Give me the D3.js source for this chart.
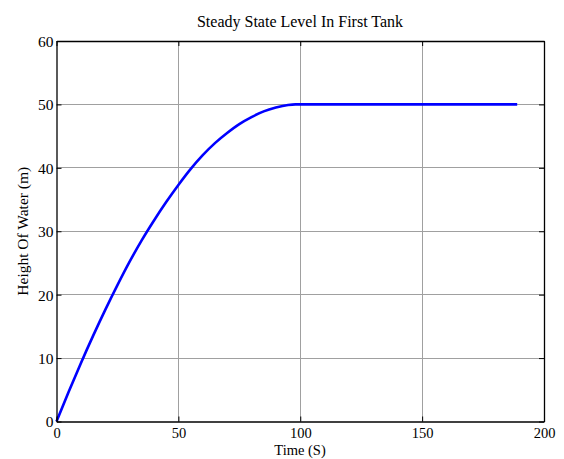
<!DOCTYPE html>
<html>
<head>
<meta charset="utf-8">
<script src="https://cdn.jsdelivr.net/npm/d3@7"></script>
<style>
html,body{margin:0;padding:0;background:#fff;}
svg{display:block;}
text{font-family:"Liberation Serif","Times New Roman",serif;fill:#000;}
</style>
</head>
<body>
<svg id="chart" width="564" height="459"></svg>
<script>
// Data
const timeValues   = [0, 5, 10, 15, 20, 25, 30, 35, 40, 45, 50, 55, 60, 65, 70, 75, 80, 85, 90, 95, 98, 120, 150, 189];
const heightValues = [0, 4.7, 9.2, 13.5, 17.6, 21.5, 25.2, 28.6, 31.7, 34.6, 37.3, 39.8, 42.0, 43.9, 45.5, 46.9, 48.0, 48.9, 49.5, 49.9, 50, 50, 50, 50];
const xTicks = [0, 50, 100, 150, 200];
const yTicks = [0, 10, 20, 30, 40, 50, 60];
const titleText = "Steady State Level In First Tank";
const xLabel = "Time (S)";
const yLabel = "Height Of Water (m)";

const svg = d3.select("#chart");
const L = 56.5, R = 544, T = 41, B = 421.5;
const x = d3.scaleLinear().domain([0, 200]).range([L, R]);
const y = d3.scaleLinear().domain([0, 60]).range([B, T]);
const FONT = '"Liberation Serif","Times New Roman",serif';

// grid
const g = svg.append("g");
g.selectAll(".vg").data(xTicks.slice(1, -1)).join("line")
  .attr("x1", d => x(d)).attr("x2", d => x(d)).attr("y1", T).attr("y2", B)
  .attr("stroke", "#a0a0a0").attr("stroke-width", 1).attr("shape-rendering", "crispEdges");
g.selectAll(".hg").data(yTicks.slice(1, -1)).join("line")
  .attr("y1", d => y(d)).attr("y2", d => y(d)).attr("x1", L).attr("x2", R)
  .attr("stroke", "#a0a0a0").attr("stroke-width", 1).attr("shape-rendering", "crispEdges");

// line
const pts = timeValues.map((t, i) => [t, heightValues[i]]);
svg.append("path").datum(pts)
  .attr("fill", "none").attr("stroke", "#0000ff").attr("stroke-width", 2.6)
  .attr("stroke-linejoin", "round")
  .attr("d", d3.line().x(d => x(d[0])).y(d => y(d[1])).curve(d3.curveMonotoneX));

// axes
const tick = 5;
const xb = d3.axisBottom(x).tickValues(xTicks).tickSizeInner(-tick).tickSizeOuter(0);
const xt = d3.axisTop(x).tickValues(xTicks).tickSizeInner(-tick).tickSizeOuter(0).tickFormat("");
const yl = d3.axisLeft(y).tickValues(yTicks).tickSizeInner(-tick).tickSizeOuter(0);
const yr = d3.axisRight(y).tickValues(yTicks).tickSizeInner(-tick).tickSizeOuter(0).tickFormat("");

function style(sel, fs) {
  sel.select(".domain").attr("stroke", "#000").attr("stroke-width", 1.3);
  sel.selectAll(".tick line").attr("stroke", "#000").attr("stroke-width", 1);
  sel.selectAll(".tick text").style("font-family", FONT).style("font-size", fs).attr("fill", "#000");
}
svg.append("g").attr("transform", `translate(0,${B})`).call(xb).call(style, "14.5px")
  .selectAll(".tick text").attr("y", 16).attr("dy", 0);
svg.append("g").attr("transform", `translate(0,${T})`).call(xt).call(style, "14.5px");
svg.append("g").attr("transform", `translate(${L},0)`).call(yl).call(style, "15.5px")
  .selectAll(".tick text").attr("x", -3).attr("dy", "0.35em");
svg.append("g").attr("transform", `translate(${R},0)`).call(yr).call(style, "15.5px");

// texts
svg.append("text").attr("x", 300).attr("y", 27).attr("text-anchor", "middle")
  .style("font-size", "16px").text(titleText);
svg.append("text").attr("x", 300).attr("y", 455).attr("text-anchor", "middle")
  .style("font-size", "14.5px").text(xLabel);
svg.append("text").attr("transform", `translate(28,${(T + B) / 2}) rotate(-90)`)
  .attr("text-anchor", "middle").style("font-size", "15.5px").text(yLabel);
</script>
</body>
</html>
